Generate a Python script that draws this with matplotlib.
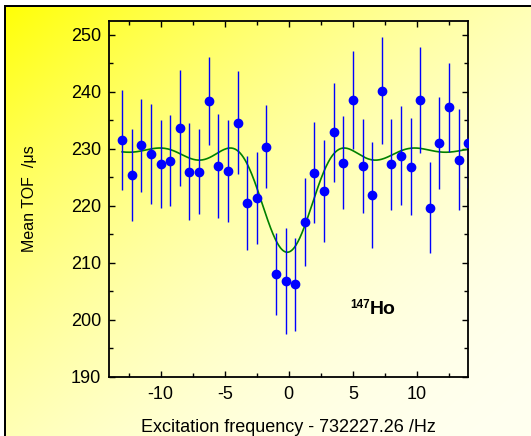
import numpy as np
import matplotlib
matplotlib.use("Agg")
import matplotlib.pyplot as plt
from matplotlib.ticker import MultipleLocator

plt.rcParams['font.family'] = ['Liberation Sans', 'DejaVu Sans']
plt.rcParams['axes.unicode_minus'] = False

# measured points: detuning (Hz), mean TOF (us), error (us)
freq = [-13.0, -12.25, -11.5, -10.75, -10.0, -9.25, -8.5, -7.75, -7.0, -6.25,
        -5.5, -4.75, -4.0, -3.25, -2.5, -1.75, -1.0, -0.25, 0.5, 1.25,
        2.0, 2.75, 3.5, 4.25, 5.0, 5.75, 6.5, 7.25, 8.0, 8.75,
        9.5, 10.25, 11.0, 11.75, 12.5, 13.25, 14.0]
tof = [231.6, 225.4, 230.6, 229.1, 227.4, 227.9, 233.7, 226.0, 226.0, 238.4,
       227.0, 226.1, 234.6, 220.5, 221.4, 230.4, 208.1, 206.8, 206.2, 217.1,
       225.8, 222.6, 232.9, 227.6, 238.5, 227.0, 221.9, 240.2, 227.3, 228.8,
       226.9, 238.5, 219.7, 231.0, 237.3, 228.1, 231.1]
tof_err = [8.8, 8.0, 8.2, 8.8, 7.7, 8.0, 10.2, 8.5, 7.5, 7.8,
           9.1, 9.0, 9.0, 8.3, 8.1, 7.3, 7.2, 9.3, 8.2, 7.7,
           8.9, 9.0, 8.7, 8.1, 8.6, 8.3, 9.3, 9.4, 8.0, 8.7,
           8.5, 9.3, 8.0, 8.1, 7.8, 8.9, 8.0]

# fit parameters of the resonance profile
fit_base = 230.15
fit_depth = 18.3
fit_center = -0.12
fit_T = 0.195  # excitation time (s)


def profile(x):
    u = 2 * np.pi * (x - fit_center) * fit_T
    w = np.sqrt(np.pi ** 2 + u ** 2)
    conv = np.pi ** 2 / w ** 2 * np.sin(w / 2) ** 2
    return fit_base - fit_depth * conv


W, H = 531, 436
fig = plt.figure(figsize=(W / 100, H / 100), dpi=100)

# background: diagonal yellow gradient, framed by a black border
yy, xx = np.mgrid[0:H, 0:W]
t = (xx / W + yy / H) / 2
img = np.ones((H, W, 3))
img[..., 2] = 240 * (1 - (1 - t) ** 2) / 255
img[:6, :] = 1
img[:, :4] = 1
img[6:8, 4:] = 0
img[6:, 4:6] = 0
bg = fig.add_axes([0, 0, 1, 1], zorder=0)
bg.imshow(img, extent=[0, 1, 0, 1], aspect='auto', interpolation='nearest')
bg.axis('off')

ax = fig.add_axes([109.3 / W, 1 - 376.7 / H, 359 / W, 356 / H], zorder=1)
ax.set_facecolor('none')

xs = np.linspace(-13, 14, 600)
ax.plot(xs, profile(xs), color='#008000', lw=1.2, zorder=2)
ax.errorbar(freq, tof, yerr=tof_err, fmt='o', color='blue', ms=6,
            ecolor='blue', elinewidth=1.0, capsize=0, zorder=3, clip_on=True)

ax.set_xlim(-14, 14)
ax.set_ylim(190, 252.5)
ax.xaxis.set_major_locator(MultipleLocator(5))
ax.xaxis.set_minor_locator(MultipleLocator(2.5))
ax.yaxis.set_major_locator(MultipleLocator(10))
ax.yaxis.set_minor_locator(MultipleLocator(5))
ax.tick_params(which='both', direction='in', top=True, right=True, width=1.0,
               labelsize=13, color='black')
ax.tick_params(which='major', length=4.5)
ax.tick_params(which='minor', length=2.6)
ax.tick_params(axis='y', pad=6)
ax.tick_params(axis='x', pad=7)
for s in ax.spines.values():
    s.set_linewidth(1.3)

ax.set_xlabel('Excitation frequency - 732227.26 /Hz', fontsize=13, labelpad=11)
ax.set_ylabel('Mean TOF  /\u03bcs', fontsize=11.5, labelpad=24)

ax.text(4.8, 202.1, '147', fontsize=8.5, fontweight='bold', ha='left', va='baseline')
ax.text(6.28, 201.0, 'Ho', fontsize=14, fontweight='bold', ha='left', va='baseline')

fig.savefig('out.png', dpi=100)
